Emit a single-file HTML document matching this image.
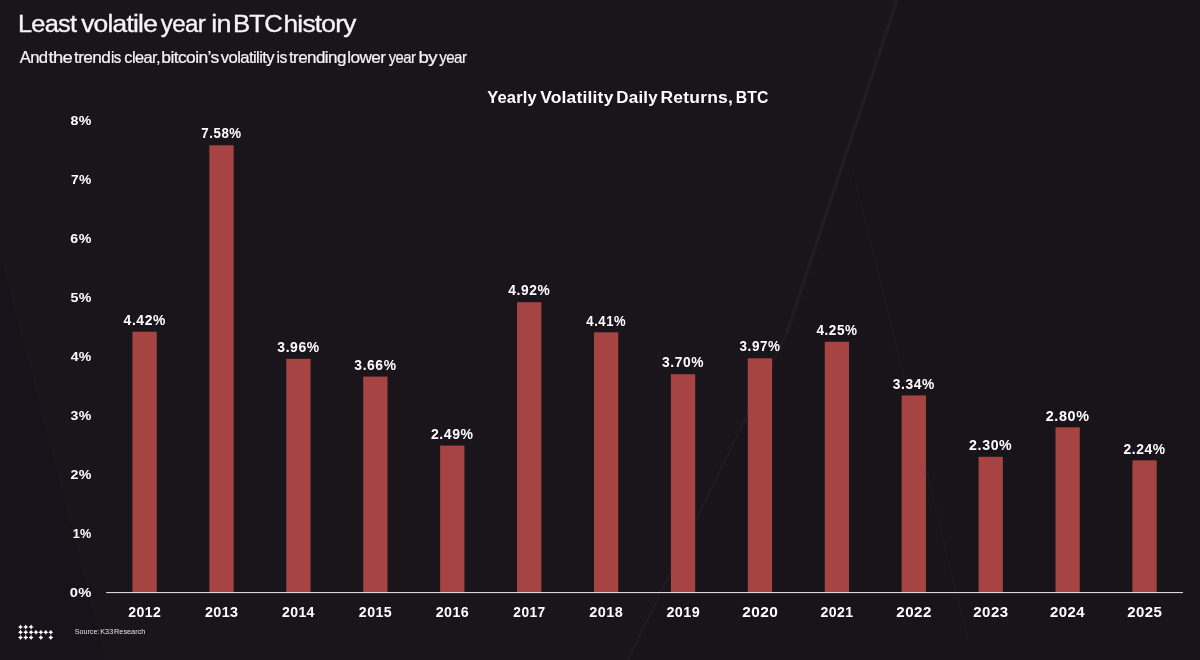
<!DOCTYPE html>
<html><head><meta charset="utf-8"><title>Least volatile year in BTC history</title>
<style>
html,body{margin:0;padding:0;background:#1a151b;}
body{width:1200px;height:660px;overflow:hidden;position:relative;font-family:"Liberation Sans",sans-serif;}
svg{position:absolute;left:0;top:0;display:block;will-change:transform}
text{font-family:"Liberation Sans",sans-serif;fill:#f7f3f4}
.b{font-weight:700;fill:#ffffff}
</style></head><body>
<svg width="1200" height="660" viewBox="0 0 1200 660">
<rect width="1200" height="660" fill="#1a151b"/>
<g id="bg">
<polygon points="897,0 1200,0 1200,660 628,660 787,333" fill="#18141a"/>
<polygon points="0,250 0,660 107,660" fill="#18131a"/>
<polyline points="897,0 787,333 628,660" fill="none" stroke="#2a242c" stroke-opacity="0.55" stroke-width="1.6"/>
<polyline points="897,0 787,333" fill="none" stroke="#2a242c" stroke-opacity="0.25" stroke-width="5"/>
<line x1="852" y1="166" x2="968" y2="640" stroke="#2a242c" stroke-opacity="0.45" stroke-width="1"/>
<line x1="0" y1="250" x2="107" y2="660" stroke="#2a242c" stroke-opacity="0.3" stroke-width="1"/>
</g>
<g id="title" stroke="#f7f3f4" stroke-width="0.35">
<text letter-spacing="-0.7" font-size="24.7" transform="translate(17.94,32.40) scale(1.0280,1.0)">Least</text>
<text letter-spacing="-0.7" font-size="24.7" transform="translate(81.19,32.40) scale(1.0650,1.0)">volatile</text>
<text letter-spacing="-0.7" font-size="24.7" transform="translate(160.75,32.40) scale(0.9791,1.0)">year</text>
<text letter-spacing="-0.7" font-size="24.7" transform="translate(211.20,32.40) scale(1.0915,1.0)">in</text>
<text letter-spacing="-0.7" font-size="24.7" transform="translate(232.91,32.40) scale(1.0433,1.0)">BTC</text>
<text letter-spacing="-0.7" font-size="24.7" transform="translate(283.49,32.40) scale(1.0629,1.0)">history</text>
</g>
<g id="subtitle" stroke="#f7f3f4" stroke-width="0.2">
<text letter-spacing="-0.55" font-size="16.0" transform="translate(19.65,62.60) scale(1.0400,1.0)">And</text>
<text letter-spacing="-0.55" font-size="16.0" transform="translate(48.41,62.60) scale(1.1535,1.0)">the</text>
<text letter-spacing="-0.55" font-size="16.0" transform="translate(73.93,62.60) scale(1.0774,1.0)">trend</text>
<text letter-spacing="-0.55" font-size="16.0" transform="translate(111.02,62.60) scale(0.9362,1.0)">is</text>
<text letter-spacing="-0.55" font-size="16.0" transform="translate(124.33,62.60) scale(1.0240,1.0)">clear,</text>
<text letter-spacing="-0.55" font-size="16.0" transform="translate(161.35,62.60) scale(1.0913,1.0)">bitcoin’s</text>
<text letter-spacing="-0.55" font-size="16.0" transform="translate(220.75,62.60) scale(1.0395,1.0)">volatility</text>
<text letter-spacing="-0.55" font-size="16.0" transform="translate(276.47,62.60) scale(0.9787,1.0)">is</text>
<text letter-spacing="-0.55" font-size="16.0" transform="translate(288.93,62.60) scale(1.0655,1.0)">trending</text>
<text letter-spacing="-0.55" font-size="16.0" transform="translate(347.17,62.60) scale(1.0807,1.0)">lower</text>
<text letter-spacing="-0.55" font-size="16.0" transform="translate(388.65,62.60) scale(0.9297,1.0)">year</text>
<text letter-spacing="-0.55" font-size="16.0" transform="translate(418.47,62.60) scale(1.1672,1.0)">by</text>
<text letter-spacing="-0.55" font-size="16.0" transform="translate(439.15,62.60) scale(0.9434,1.0)">year</text>
</g>
<g id="charttitle">
<text class="b" letter-spacing="0.2" font-size="17.2" transform="translate(487.21,102.60) scale(0.9591,1.0)">Yearly</text>
<text class="b" letter-spacing="0.2" font-size="17.2" transform="translate(540.20,102.60) scale(1.0139,1.0)">Volatility</text>
<text class="b" letter-spacing="0.2" font-size="17.2" transform="translate(616.37,102.60) scale(0.9840,1.0)">Daily</text>
<text class="b" letter-spacing="0.2" font-size="17.2" transform="translate(660.53,102.60) scale(1.0160,1.0)">Returns,</text>
<text class="b" letter-spacing="0.2" font-size="17.2" transform="translate(735.65,102.60) scale(0.9165,1.0)">BTC</text>
</g>
<g id="yaxis">
<text class="b" letter-spacing="0.35" font-size="13.4" transform="translate(69.65,597.20) scale(1.1034,1.0)">0%</text>
<text class="b" letter-spacing="0.35" font-size="13.4" transform="translate(72.70,538.20) scale(0.9459,1.0)">1%</text>
<text class="b" letter-spacing="0.35" font-size="13.4" transform="translate(70.42,479.20) scale(1.0635,1.0)">2%</text>
<text class="b" letter-spacing="0.35" font-size="13.4" transform="translate(70.58,420.20) scale(1.0551,1.0)">3%</text>
<text class="b" letter-spacing="0.35" font-size="13.4" transform="translate(70.69,361.20) scale(1.0496,1.0)">4%</text>
<text class="b" letter-spacing="0.35" font-size="13.4" transform="translate(70.48,302.20) scale(1.0607,1.0)">5%</text>
<text class="b" letter-spacing="0.35" font-size="13.4" transform="translate(70.37,243.20) scale(1.0663,1.0)">6%</text>
<text class="b" letter-spacing="0.35" font-size="13.4" transform="translate(71.03,184.20) scale(1.0319,1.0)">7%</text>
<text class="b" letter-spacing="0.35" font-size="13.4" transform="translate(70.48,125.20) scale(1.0607,1.0)">8%</text>
</g>
<g id="bars">
<rect x="132.45" y="331.72" width="24.3" height="260.78" fill="#a64444"/>
<rect x="209.37" y="145.28" width="24.3" height="447.22" fill="#a64444"/>
<rect x="286.29" y="358.86" width="24.3" height="233.64" fill="#a64444"/>
<rect x="363.21" y="376.56" width="24.3" height="215.94" fill="#a64444"/>
<rect x="440.13" y="445.59" width="24.3" height="146.91" fill="#a64444"/>
<rect x="517.05" y="302.22" width="24.3" height="290.28" fill="#a64444"/>
<rect x="593.97" y="332.31" width="24.3" height="260.19" fill="#a64444"/>
<rect x="670.89" y="374.20" width="24.3" height="218.30" fill="#a64444"/>
<rect x="747.81" y="358.27" width="24.3" height="234.23" fill="#a64444"/>
<rect x="824.73" y="341.75" width="24.3" height="250.75" fill="#a64444"/>
<rect x="901.65" y="395.44" width="24.3" height="197.06" fill="#a64444"/>
<rect x="978.57" y="456.80" width="24.3" height="135.70" fill="#a64444"/>
<rect x="1055.49" y="427.30" width="24.3" height="165.20" fill="#a64444"/>
<rect x="1132.41" y="460.34" width="24.3" height="132.16" fill="#a64444"/>
</g><g id="labels">
<text class="b" letter-spacing="0.6" font-size="14.0" transform="translate(123.58,324.92) scale(0.9928,1.0)">4.42%</text>
<text class="b" letter-spacing="0.6" font-size="14.0" transform="translate(201.20,138.48) scale(0.9502,1.0)">7.58%</text>
<text class="b" letter-spacing="0.6" font-size="14.0" transform="translate(277.32,352.06) scale(0.9952,1.0)">3.96%</text>
<text class="b" letter-spacing="0.6" font-size="14.0" transform="translate(354.36,369.76) scale(0.9891,1.0)">3.66%</text>
<text class="b" letter-spacing="0.6" font-size="14.0" transform="translate(430.88,438.79) scale(1.0036,1.0)">2.49%</text>
<text class="b" letter-spacing="0.6" font-size="14.0" transform="translate(508.35,295.42) scale(0.9844,1.0)">4.92%</text>
<text class="b" letter-spacing="0.6" font-size="14.0" transform="translate(586.33,325.51) scale(0.9338,1.0)">4.41%</text>
<text class="b" letter-spacing="0.6" font-size="14.0" transform="translate(662.09,367.40) scale(0.9867,1.0)">3.70%</text>
<text class="b" letter-spacing="0.6" font-size="14.0" transform="translate(739.52,351.47) scale(0.9626,1.0)">3.97%</text>
<text class="b" letter-spacing="0.6" font-size="14.0" transform="translate(816.44,334.95) scale(0.9651,1.0)">4.25%</text>
<text class="b" letter-spacing="0.6" font-size="14.0" transform="translate(892.85,388.64) scale(0.9867,1.0)">3.34%</text>
<text class="b" letter-spacing="0.6" font-size="14.0" transform="translate(969.11,450.00) scale(1.0133,1.0)">2.30%</text>
<text class="b" letter-spacing="0.6" font-size="14.0" transform="translate(1045.73,420.50) scale(1.0279,1.0)">2.80%</text>
<text class="b" letter-spacing="0.6" font-size="14.0" transform="translate(1123.47,453.54) scale(0.9891,1.0)">2.24%</text>
</g><g id="years">
<text class="b" letter-spacing="0.4" font-size="14.4" transform="translate(128.31,617.20) scale(0.9814,1.0)">2012</text>
<text class="b" letter-spacing="0.4" font-size="14.4" transform="translate(204.92,617.20) scale(0.9984,1.0)">2013</text>
<text class="b" letter-spacing="0.4" font-size="14.4" transform="translate(281.95,617.20) scale(0.9786,1.0)">2014</text>
<text class="b" letter-spacing="0.4" font-size="14.4" transform="translate(358.87,617.20) scale(0.9892,1.0)">2015</text>
<text class="b" letter-spacing="0.4" font-size="14.4" transform="translate(435.78,617.20) scale(0.9922,1.0)">2016</text>
<text class="b" letter-spacing="0.4" font-size="14.4" transform="translate(513.35,617.20) scale(0.9565,1.0)">2017</text>
<text class="b" letter-spacing="0.4" font-size="14.4" transform="translate(589.37,617.20) scale(1.0062,1.0)">2018</text>
<text class="b" letter-spacing="0.4" font-size="14.4" transform="translate(666.42,617.20) scale(1.0000,1.0)">2019</text>
<text class="b" letter-spacing="0.4" font-size="14.4" transform="translate(742.17,617.20) scale(1.0731,1.0)">2020</text>
<text class="b" letter-spacing="0.4" font-size="14.4" transform="translate(820.51,617.20) scale(0.9815,1.0)">2021</text>
<text class="b" letter-spacing="0.4" font-size="14.4" transform="translate(896.27,617.20) scale(1.0559,1.0)">2022</text>
<text class="b" letter-spacing="0.4" font-size="14.4" transform="translate(973.32,617.20) scale(1.0465,1.0)">2023</text>
<text class="b" letter-spacing="0.4" font-size="14.4" transform="translate(1050.12,617.20) scale(1.0398,1.0)">2024</text>
<text class="b" letter-spacing="0.4" font-size="14.4" transform="translate(1127.16,617.20) scale(1.0433,1.0)">2025</text>
</g>
<rect x="106.2" y="592" width="1076.8" height="1.1" fill="#d9d5d8"/>
<g id="logo" fill="#ffffff">
<path transform="translate(20.5,627)" d="M0,-2.45 Q0.55,-0.55 2.45,0 Q0.55,0.55 0,2.45 Q-0.55,0.55 -2.45,0 Q-0.55,-0.55 0,-2.45Z"/>
<path transform="translate(25.75,627)" d="M0,-2.45 Q0.55,-0.55 2.45,0 Q0.55,0.55 0,2.45 Q-0.55,0.55 -2.45,0 Q-0.55,-0.55 0,-2.45Z"/>
<path transform="translate(31.1,627)" d="M0,-2.45 Q0.55,-0.55 2.45,0 Q0.55,0.55 0,2.45 Q-0.55,0.55 -2.45,0 Q-0.55,-0.55 0,-2.45Z"/>
<path transform="translate(20.5,632.25)" d="M0,-2.45 Q0.55,-0.55 2.45,0 Q0.55,0.55 0,2.45 Q-0.55,0.55 -2.45,0 Q-0.55,-0.55 0,-2.45Z"/>
<path transform="translate(25.75,632.25)" d="M0,-2.45 Q0.55,-0.55 2.45,0 Q0.55,0.55 0,2.45 Q-0.55,0.55 -2.45,0 Q-0.55,-0.55 0,-2.45Z"/>
<path transform="translate(31.1,632.25)" d="M0,-2.45 Q0.55,-0.55 2.45,0 Q0.55,0.55 0,2.45 Q-0.55,0.55 -2.45,0 Q-0.55,-0.55 0,-2.45Z"/>
<path transform="translate(36,632.25)" d="M0,-2.45 Q0.55,-0.55 2.45,0 Q0.55,0.55 0,2.45 Q-0.55,0.55 -2.45,0 Q-0.55,-0.55 0,-2.45Z"/>
<path transform="translate(40.9,632.25)" d="M0,-2.45 Q0.55,-0.55 2.45,0 Q0.55,0.55 0,2.45 Q-0.55,0.55 -2.45,0 Q-0.55,-0.55 0,-2.45Z"/>
<path transform="translate(45.8,632.25)" d="M0,-2.45 Q0.55,-0.55 2.45,0 Q0.55,0.55 0,2.45 Q-0.55,0.55 -2.45,0 Q-0.55,-0.55 0,-2.45Z"/>
<path transform="translate(50.8,632.25)" d="M0,-2.45 Q0.55,-0.55 2.45,0 Q0.55,0.55 0,2.45 Q-0.55,0.55 -2.45,0 Q-0.55,-0.55 0,-2.45Z"/>
<path transform="translate(20.5,637.5)" d="M0,-2.45 Q0.55,-0.55 2.45,0 Q0.55,0.55 0,2.45 Q-0.55,0.55 -2.45,0 Q-0.55,-0.55 0,-2.45Z"/>
<path transform="translate(25.75,637.5)" d="M0,-2.45 Q0.55,-0.55 2.45,0 Q0.55,0.55 0,2.45 Q-0.55,0.55 -2.45,0 Q-0.55,-0.55 0,-2.45Z"/>
<path transform="translate(31.1,637.5)" d="M0,-2.45 Q0.55,-0.55 2.45,0 Q0.55,0.55 0,2.45 Q-0.55,0.55 -2.45,0 Q-0.55,-0.55 0,-2.45Z"/>
<path transform="translate(40.9,637.5)" d="M0,-2.45 Q0.55,-0.55 2.45,0 Q0.55,0.55 0,2.45 Q-0.55,0.55 -2.45,0 Q-0.55,-0.55 0,-2.45Z"/>
<path transform="translate(50.8,637.5)" d="M0,-2.45 Q0.55,-0.55 2.45,0 Q0.55,0.55 0,2.45 Q-0.55,0.55 -2.45,0 Q-0.55,-0.55 0,-2.45Z"/>
</g>
<g id="source">
<text style="fill:#e2dfe4" font-size="7.5" transform="translate(74.66,634.40) scale(0.9577,1.0)">Source:</text>
<text style="fill:#e2dfe4" font-size="7.5" transform="translate(100.21,634.40) scale(0.9758,1.0)">K33</text>
<text style="fill:#e2dfe4" font-size="7.5" transform="translate(114.01,634.40) scale(0.9791,1.0)">Research</text>
</g>
</svg></body></html>
